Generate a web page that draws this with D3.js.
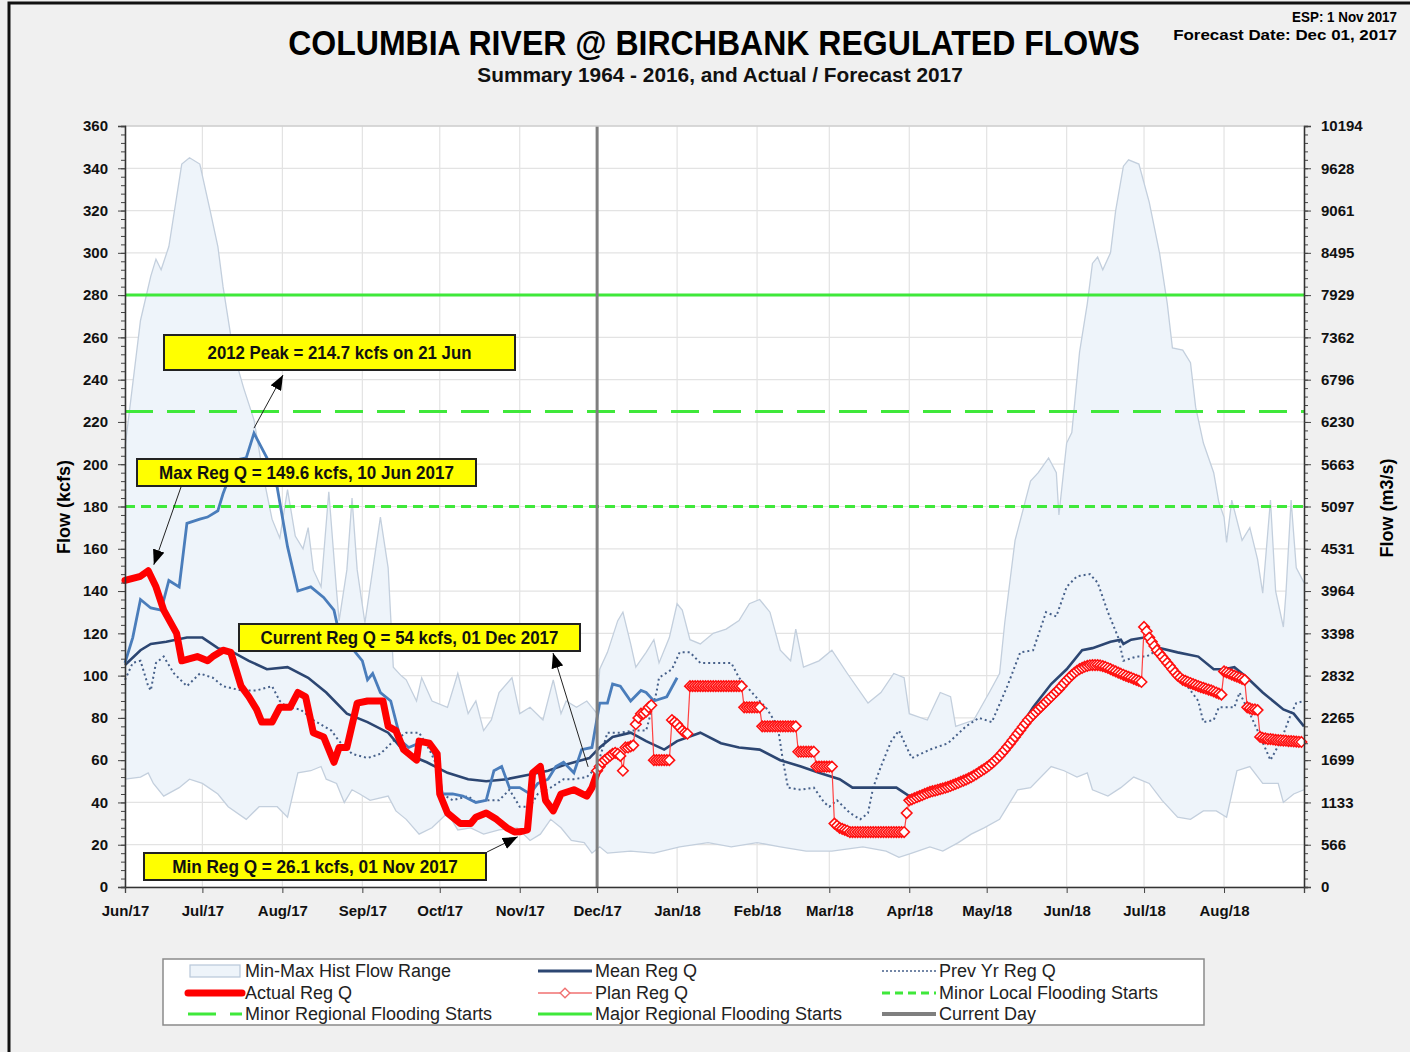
<!DOCTYPE html>
<html>
<head>
<meta charset="utf-8">
<script src="https://cdn.jsdelivr.net/npm/d3@7"></script>
<style>
body { margin: 0; background: #f0f0f0; }
svg { display: block; }
text { font-family: "Liberation Sans Narrow", "Liberation Sans", Arial, sans-serif; }
</style>
</head>
<body>
<svg></svg>
<script>
// days since 1 Jun 2017, flow in kcfs
var startDay = new Date(2017, 5, 1);
var endDay = new Date(2018, 8, 1);
var currentDay = new Date(2017, 11, 1);

var yTicks = [0, 20, 40, 60, 80, 100, 120, 140, 160, 180, 200, 220, 240, 260, 280, 300, 320, 340, 360];

var majorRegional = 280;
var minorRegional = 225;
var minorLocal = 180;

var histMax = [[0,208],[6,268],[10,289],[12,297],[14,292],[17,303],[22,342],[25,345],[29,342],[33,320],[36,303],[38,284],[42,253],[46,236],[50,221],[54,192],[57,174],[60,165],[63,188],[66,166],[69,160],[71,170],[73,150],[76,142],[79,187],[82,140],[83,126],[86,150],[88,184],[90,150],[93,125],[96,150],[99,175],[102,151],[104,104],[107,100],[109,98],[113,88],[115,99],[119,88],[125,85],[129,101],[133,82],[136,88],[139,74],[142,79],[145,92],[150,99],[153,82],[157,85],[162,79],[166,98],[169,82],[171,88],[175,85],[179,88],[183,82],[184,103],[187,111],[191,126],[193,130],[196,115],[198,104],[202,111],[205,117],[207,106],[211,118],[214,134],[216,131],[219,117],[223,115],[228,120],[233,122],[238,126],[242,134],[246,136],[250,130],[254,112],[258,107],[260,122],[263,104],[269,107],[274,112],[280,101],[288,87],[293,92],[298,101],[302,99],[304,82],[311,79],[316,92],[320,90],[322,76],[329,79],[335,92],[339,101],[341,125],[345,164],[351,192],[354,196],[358,203],[361,196],[362,176],[365,210],[367,215],[370,253],[373,276],[375,295],[377,298],[379,292],[382,300],[384,320],[387,341],[389,344],[393,342],[397,324],[401,300],[404,276],[406,255],[410,254],[413,248],[415,227],[418,210],[422,196],[424,182],[426,175],[427,163],[429,183],[433,164],[436,170],[439,155],[441,139],[444,183],[446,140],[449,123],[450,139],[452,183],[454,151],[457,144]];

var histMin = [[0,51],[6,52],[9,54],[11,49],[15,43],[21,47],[25,51],[30,49],[36,44],[40,38],[47,32],[52,38],[59,38],[63,33],[67,54],[72,55],[76,57],[78,51],[82,49],[85,40],[88,46],[91,44],[95,41],[102,43],[105,36],[109,32],[114,25],[119,28],[125,35],[129,27],[134,28],[139,25],[145,27],[152,28],[157,22],[161,25],[165,32],[169,28],[173,22],[178,21],[181,16],[184,19],[187,16],[196,17],[205,16],[215,19],[226,21],[235,19],[245,21],[254,19],[264,17],[274,17],[286,19],[295,17],[300,14],[305,16],[312,19],[317,17],[323,21],[328,25],[333,28],[339,32],[342,38],[346,46],[351,47],[359,57],[364,55],[369,52],[373,54],[375,46],[381,43],[386,47],[391,52],[397,49],[402,41],[408,33],[413,32],[418,36],[423,36],[427,33],[431,55],[436,57],[441,49],[447,49],[449,40],[453,44],[457,46]];

var meanQ = [[0,105],[6,112],[10,115],[16,116],[24,118],[30,118],[36,113],[42,111],[48,107],[55,103],[63,104],[71,99],[78,92],[86,82],[94,78],[102,73],[109,63],[117,59],[125,54],[133,51],[140,50],[148,51],[156,53],[164,55],[171,58],[180,61],[184,66],[189,71],[196,73],[202,69],[209,65],[214,69],[223,73],[231,68],[238,66],[246,65],[254,60],[262,57],[269,54],[277,51],[282,47],[290,47],[299,47],[304,43],[312,45],[320,48],[328,52],[335,58],[343,68],[352,85],[359,96],[365,103],[371,112],[375,113],[382,116],[386,117],[387,115],[390,117],[395,118],[401,113],[408,111],[416,109],[422,103],[426,103],[430,104],[435,99],[441,92],[449,84],[453,82],[457,76]];

var prevYrQ = [[0,98],[3,106],[6,107],[9,95],[10,93],[12,106],[15,109],[19,101],[24,95],[29,101],[34,99],[38,95],[45,93],[51,93],[57,95],[60,88],[63,85],[68,84],[73,79],[80,74],[83,69],[88,63],[94,61],[99,63],[104,69],[109,73],[114,73],[118,65],[121,57],[123,44],[127,41],[133,43],[136,40],[140,41],[145,41],[149,46],[153,38],[157,38],[160,44],[165,47],[170,51],[174,51],[179,52],[183,57],[187,73],[192,73],[197,74],[202,74],[206,92],[207,99],[212,103],[215,111],[219,111],[223,106],[235,106],[238,99],[243,92],[249,84],[253,76],[255,60],[257,47],[262,46],[267,47],[271,40],[273,38],[276,41],[281,35],[285,32],[288,35],[290,47],[293,57],[297,69],[300,74],[303,66],[305,61],[312,65],[319,68],[326,76],[331,80],[336,78],[342,95],[347,111],[352,112],[357,130],[361,128],[365,142],[369,147],[374,148],[377,144],[381,130],[385,118],[387,107],[392,109],[396,109],[400,112],[405,107],[410,98],[416,88],[418,78],[422,79],[424,85],[430,85],[432,92],[436,82],[439,74],[444,60],[448,69],[452,82],[454,87],[457,88]];

var flow2012 = [[0,106],[3,118],[6,136],[10,132],[14,131],[17,145],[21,142],[24,172],[29,174],[32,175],[36,178],[38,186],[43,202],[47,203],[50,214.7],[55,203],[59,189],[63,161],[67,140],[72,142],[77,137],[81,131],[83,120],[88,113],[92,107],[94,98],[96,101],[99,92],[103,88],[107,69],[110,66],[114,68],[118,68],[121,59],[123,44],[127,44],[131,43],[136,40],[140,41],[143,55],[146,57],[149,47],[153,47],[157,44],[160,49],[164,51],[167,57],[170,59],[174,54],[177,65],[181,66],[184,87],[187,87],[189,96],[192,95],[196,88],[200,93],[202,92],[205,88],[210,90],[214,99]];

var actualQ = [[0,145],[6,147],[9,149.6],[12,142],[15,131],[20,120],[22,107],[28,109],[32,107],[34,109],[38,112],[41,111],[45,95],[48,90],[51,84],[53,78],[57,78],[60,85],[64,85],[67,92],[70,90],[73,73],[77,71],[81,59],[83,66],[86,66],[90,87],[94,88],[100,88],[102,76],[105,74],[108,65],[113,60],[114,69],[118,68],[121,63],[122,44],[125,35],[130,30],[134,30],[136,33],[140,35],[144,32],[148,28],[151,26],[153,26.1],[156,27],[158,54],[161,57],[163,41],[166,36],[169,44],[174,46],[179,43],[181,47],[183,54]];

// plan, one value per day from 1 Dec 2017
var planStart = new Date(2017, 11, 1);
var planQ = [55,57,59,60,61,62,63,63.5,63,62,55,66,66,66.5,67,77,80,82,82,83,85,86,
  60,60,60,60,60,60,60,
  79,78,77,75.5,74,73,72.5,
  95,95,95,95,95,95,95,95,95,95,95,95,95,95,95,95,95,95,95,95,95,
  85,85,85,85,85,85,85,
  76,76,76,76,76,76,76,76,76,76,76,76,76,76,
  64,64,64,64,64,64,64,
  57,57,57,57,57,57,57,
  30,29,28,27.5,27,26.6,
  26,26,26,26,26,26,26,26,26,26,26,26,26,26,26,26,26,26,26,26,26,26,
  35,
  41,41.5,42,42.5,43,43.5,44,44.5,45,45.3,
  45.6,46,46.3,46.6,47,47.4,47.8,48.3,48.8,49.3,
  49.8,50.3,50.8,51.4,52,52.7,53.4,54.2,55,55.8,
  56.6,57.5,58.5,59.6,60.8,62,63.4,64.8,66.3,67.8,
  69.4,71,72.6,74.2,75.8,77.4,79,80.3,81.6,82.8,
  84,85.2,86.4,87.6,88.8,90,91.2,92.4,93.6,95,
  96.4,97.8,99,100.2,101.3,102.3,103.1,103.7,104.2,104.6,
  104.9,105,105,105,104.8,104.5,104.1,103.6,103.1,102.5,
  102,101.4,100.9,100.4,99.9,99.4,99,98.5,98,97.5,
  97,
  123,121,118,116,114,112,110.5,109,107.5,106,104.5,103,101.5,100,99,98,97.5,97,96.5,96,95.5,95,94.6,94.2,93.8,93.4,93,92.5,92,91.5,91,
  102,101.5,101,100.5,100,99.5,99,98.5,98,
  85,84.5,84,84,83.7,
  71,
  70.5,70.3,70,70,69.8,69.6,69.5,69.4,69.3,69.2,69,69,68.9,68.8,68.7,68.6];

var cfsToCms = 28.3168;

var W = 1410, H = 1052;
var plot = { left: 125, right: 1304, top: 126, bottom: 887 };

var svg = d3.select('svg').attr('width', W).attr('height', H);

var x = d3.scaleTime().domain([startDay, endDay]).range([plot.left, plot.right]);
var y = d3.scaleLinear().domain([0, 360]).range([plot.bottom, plot.top]);
var yR = d3.scaleLinear().domain([0, 360 * cfsToCms]).range([plot.bottom, plot.top]);

function dayDate(d) { return d3.timeDay.offset(startDay, d); }

// scale a text horizontally to a given width
function fitText(sel, ax, by, width, anchor) {
	var w = sel.node().getComputedTextLength();
	var k = width / w;
	sel.attr('x', 0).attr('y', 0).attr('text-anchor', anchor || 'middle')
		.attr('transform', 'translate(' + ax + ',' + by + ') scale(' + k + ',1)');
}

// frame
svg.append('rect').attr('x', 9).attr('y', 3).attr('width', W + 20).attr('height', H + 20)
	.attr('fill', '#f0f0f0').attr('stroke', '#111').attr('stroke-width', 3);

svg.append('rect').attr('x', plot.left).attr('y', plot.top)
	.attr('width', plot.right - plot.left).attr('height', plot.bottom - plot.top)
	.attr('fill', '#fff');

// grid
var months = d3.timeMonth.range(startDay, endDay);
svg.append('g').selectAll('line').data(yTicks).enter().append('line')
	.attr('x1', plot.left).attr('x2', plot.right)
	.attr('y1', (d) => y(d)).attr('y2', (d) => y(d))
	.attr('stroke', '#e3e3e3').attr('stroke-width', 1.2);
svg.append('g').selectAll('line').data(months).enter().append('line')
	.attr('x1', (d) => x(d)).attr('x2', (d) => x(d))
	.attr('y1', plot.top).attr('y2', plot.bottom)
	.attr('stroke', '#e3e3e3').attr('stroke-width', 1.2);

// min-max envelope
var dayLine = d3.line().x((d) => x(dayDate(d[0]))).y((d) => y(d[1]));
svg.append('path')
	.attr('d', dayLine(histMax.concat(histMin.slice().reverse())) + 'Z')
	.attr('fill', '#eef4fa').attr('stroke', 'none');
[histMax, histMin].forEach(function(s) {
	svg.append('path').attr('d', dayLine(s)).attr('fill', 'none')
		.attr('stroke', '#c3cfdd').attr('stroke-width', 1.3);
});

// flood levels
function hline(v, dash) {
	svg.append('line').attr('x1', plot.left).attr('x2', plot.right)
		.attr('y1', y(v)).attr('y2', y(v))
		.attr('stroke', '#3fe83a').attr('stroke-width', 3)
		.attr('stroke-dasharray', dash);
}
hline(majorRegional, null);
hline(minorRegional, '28,14');
hline(minorLocal, '10,6');

// series
svg.append('path').attr('d', dayLine(prevYrQ)).attr('fill', 'none')
	.attr('stroke', '#46608a').attr('stroke-width', 2).attr('stroke-dasharray', '2,3');
svg.append('path').attr('d', dayLine(meanQ)).attr('fill', 'none')
	.attr('stroke', '#2c4672').attr('stroke-width', 2.6);
svg.append('path').attr('d', dayLine(flow2012)).attr('fill', 'none')
	.attr('stroke', '#4a7dbb').attr('stroke-width', 2.8);
svg.append('path').attr('d', dayLine(actualQ)).attr('fill', 'none')
	.attr('stroke', '#ff0000').attr('stroke-width', 7)
	.attr('stroke-linejoin', 'round').attr('stroke-linecap', 'round');

// plan
var planLine = d3.line().x((d, i) => x(d3.timeDay.offset(planStart, i))).y((d) => y(d));
svg.append('path').attr('d', planLine(planQ)).attr('fill', 'none')
	.attr('stroke', '#ff4040').attr('stroke-width', 1.2);
var diamond = d3.symbol().type(d3.symbolDiamond2).size(70);
svg.append('g').selectAll('path').data(planQ).enter().append('path')
	.attr('d', diamond)
	.attr('transform', (d, i) => 'translate(' + x(d3.timeDay.offset(planStart, i)) + ',' + y(d) + ')')
	.attr('fill', '#fff').attr('stroke', '#ff1010').attr('stroke-width', 1.6);

// current day
svg.append('line').attr('x1', x(currentDay)).attr('x2', x(currentDay))
	.attr('y1', plot.top).attr('y2', plot.bottom)
	.attr('stroke', '#7f7f7f').attr('stroke-width', 3);

// plot border
svg.append('line').attr('x1', plot.left).attr('x2', plot.right).attr('y1', plot.top).attr('y2', plot.top)
	.attr('stroke', '#cfcfcf').attr('stroke-width', 1.5);

// axes
var minor = d3.range(0, 361, 4);
var axL = svg.append('g').attr('transform', 'translate(' + plot.left + ',0)')
	.call(d3.axisLeft(y).tickValues(minor).tickSize(4).tickFormat(''));
var axL2 = svg.append('g').attr('transform', 'translate(' + plot.left + ',0)')
	.call(d3.axisLeft(y).tickValues(yTicks).tickSize(7).tickPadding(10));
var rTicks = yTicks.map((v) => v * cfsToCms);
var axR = svg.append('g').attr('transform', 'translate(' + plot.right + ',0)')
	.call(d3.axisRight(yR).tickValues(minor.map((v) => v * cfsToCms)).tickSize(4).tickFormat(''));
var axR2 = svg.append('g').attr('transform', 'translate(' + plot.right + ',0)')
	.call(d3.axisRight(yR).tickValues(rTicks).tickSize(7).tickPadding(10).tickFormat((v) => Math.round(v)));
var axB = svg.append('g').attr('transform', 'translate(0,' + plot.bottom + ')')
	.call(d3.axisBottom(x).tickValues(months.concat([endDay])).tickSize(6).tickPadding(12)
		.tickFormat((d) => (+d === +endDay ? '' : d3.timeFormat('%b/%y')(d))));

[axL, axL2, axR, axR2, axB].forEach(function(a) {
	a.select('.domain').attr('stroke', '#333').attr('stroke-width', 1.3);
	a.selectAll('.tick line').attr('stroke', '#444');
	a.selectAll('text').attr('font-size', 16).attr('font-weight', 'bold').attr('fill', '#111')
		.style('font-family', '"Liberation Sans", Arial, sans-serif').style('font-size', '15px');
});

// titles
var title = svg.append('text').attr('font-size', 35).attr('font-weight', 'bold').attr('fill', '#000')
	.text('COLUMBIA RIVER @ BIRCHBANK REGULATED FLOWS');
fitText(title, 714, 55, 852);
var subtitle = svg.append('text').attr('font-size', 20).attr('font-weight', 'bold').attr('fill', '#111')
	.text('Summary 1964 - 2016, and Actual / Forecast 2017');
fitText(subtitle, 720, 82, 486);
var esp = svg.append('text').attr('font-size', 14).attr('font-weight', 'bold').text('ESP: 1 Nov 2017');
fitText(esp, 1397, 22, 105, 'end');
var fcst = svg.append('text').attr('font-size', 15).attr('font-weight', 'bold').text('Forecast Date: Dec 01, 2017');
fitText(fcst, 1397, 40, 224, 'end');

svg.append('text').attr('transform', 'translate(70,507) rotate(-90)').attr('text-anchor', 'middle')
	.attr('font-size', 18).attr('font-weight', 'bold').text('Flow (kcfs)');
svg.append('text').attr('transform', 'translate(1393,508) rotate(-90)').attr('text-anchor', 'middle')
	.attr('font-size', 18).attr('font-weight', 'bold').text('Flow (m3/s)');

// annotations
svg.append('defs').append('marker').attr('id', 'arrowHead')
	.attr('markerUnits', 'userSpaceOnUse').attr('orient', 'auto')
	.attr('markerWidth', 16).attr('markerHeight', 12).attr('refX', 15).attr('refY', 6)
	.append('path').attr('d', 'M0,0 L15,6 L0,12 Z').attr('fill', '#000');

var notes = [
	{ text: '2012 Peak = 214.7 kcfs on 21 Jun', bx: 164, by: 335, bw: 351, bh: 35, tl: 264,
		from: [x(dayDate(50)), y(214.7) - 5], to: [283, 375] },
	{ text: 'Max Reg Q = 149.6 kcfs, 10 Jun 2017', bx: 137, by: 459, bw: 339, bh: 27, tl: 295,
		from: [181, 487], to: [x(dayDate(10)) + 3, y(149.6) - 6] },
	{ text: 'Current Reg Q = 54 kcfs, 01 Dec 2017', bx: 239, by: 624, bw: 341, bh: 27, tl: 298,
		from: [x(currentDay) - 9, y(54) - 6], to: [553, 653] },
	{ text: 'Min Reg Q = 26.1 kcfs, 01 Nov 2017', bx: 144, by: 853, bw: 342, bh: 27, tl: 286,
		from: [487, 852], to: [x(dayDate(153)) - 2, y(26.1) + 5] }
];
notes.forEach(function(n) {
	svg.append('line').attr('x1', n.from[0]).attr('y1', n.from[1]).attr('x2', n.to[0]).attr('y2', n.to[1])
		.attr('stroke', '#222').attr('stroke-width', 1).attr('marker-end', 'url(#arrowHead)');
	svg.append('rect').attr('x', n.bx).attr('y', n.by).attr('width', n.bw).attr('height', n.bh)
		.attr('fill', '#ffff00').attr('stroke', '#222').attr('stroke-width', 2);
	var t = svg.append('text').attr('font-size', 18).attr('font-weight', 'bold').attr('fill', '#111').text(n.text);
	fitText(t, n.bx + n.bw / 2, n.by + n.bh / 2 + 6, n.tl);
});

// legend
var lg = svg.append('g');
lg.append('rect').attr('x', 163).attr('y', 959).attr('width', 1041).attr('height', 66)
	.attr('fill', '#fff').attr('stroke', '#8a8a8a').attr('stroke-width', 1.5);
var cols = [188, 538, 882];
var rows = [971, 993, 1014];
var items = [
	{ label: 'Min-Max Hist Flow Range', c: 0, r: 0, kind: 'box' },
	{ label: 'Mean Reg Q', c: 1, r: 0, color: '#2c4672', w: 3 },
	{ label: 'Prev Yr Reg Q', c: 2, r: 0, color: '#46608a', w: 1.5, dash: '2,2' },
	{ label: 'Actual Reg Q', c: 0, r: 1, color: '#ff0000', w: 7 },
	{ label: 'Plan Reg Q', c: 1, r: 1, color: '#f07070', w: 1.5, marker: true },
	{ label: 'Minor Local Flooding Starts', c: 2, r: 1, color: '#3fe83a', w: 3, dash: '8,5' },
	{ label: 'Minor Regional Flooding Starts', c: 0, r: 2, color: '#3fe83a', w: 3, dash: '28,14' },
	{ label: 'Major Regional Flooding Starts', c: 1, r: 2, color: '#3fe83a', w: 3 },
	{ label: 'Current Day', c: 2, r: 2, color: '#7f7f7f', w: 4 }
];
items.forEach(function(it) {
	var lx = cols[it.c], ly = rows[it.r];
	if (it.kind === 'box') {
		lg.append('rect').attr('x', lx + 2).attr('y', ly - 6).attr('width', 50).attr('height', 12)
			.attr('fill', '#eef4fa').attr('stroke', '#b8c7d9').attr('stroke-width', 1.2);
	} else {
		lg.append('line').attr('x1', lx).attr('x2', lx + 54).attr('y1', ly).attr('y2', ly)
			.attr('stroke', it.color).attr('stroke-width', it.w)
			.attr('stroke-linecap', it.w > 5 ? 'round' : 'butt')
			.attr('stroke-dasharray', it.dash || null);
		if (it.marker) {
			lg.append('path').attr('d', d3.symbol().type(d3.symbolDiamond2).size(60))
				.attr('transform', 'translate(' + (lx + 27) + ',' + ly + ')')
				.attr('fill', '#fff').attr('stroke', '#f07070').attr('stroke-width', 1.4);
		}
	}
	lg.append('text').attr('x', lx + 57).attr('y', ly + 6).attr('font-size', 18).attr('fill', '#222').text(it.label);
});
</script>
</body>
</html>
